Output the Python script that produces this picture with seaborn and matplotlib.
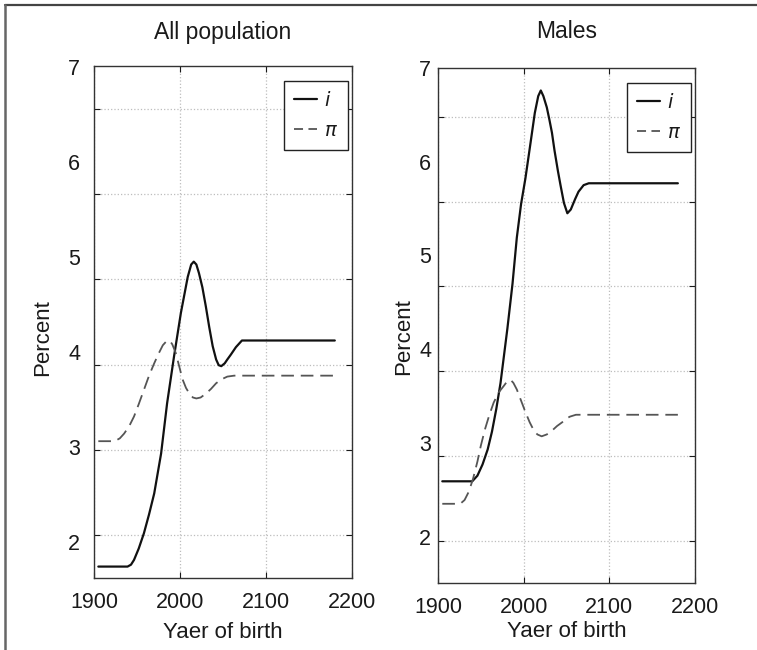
import matplotlib
matplotlib.use("Agg")
import matplotlib.pyplot as plt
from matplotlib.lines import Line2D
from matplotlib.ticker import FixedLocator
import numpy as np
import pandas as pd
import seaborn as sns

# ---------------- data ----------------
panel_titles = ["All population", "Males"]

all_i_year = [1905, 1939, 1943, 1946.5, 1952, 1958, 1964, 1970, 1978, 1985, 1993,
              2001, 2009, 2013, 2016, 2019, 2022, 2026, 2030, 2034, 2038, 2042,
              2045, 2048, 2052, 2055, 2059, 2065, 2072, 2076, 2180]
all_i_val = [1.74, 1.74, 1.76, 1.81, 1.93, 2.09, 2.29, 2.51, 2.93, 3.46, 3.95,
             4.41, 4.79, 4.92, 4.95, 4.92, 4.83, 4.68, 4.48, 4.26, 4.06, 3.92,
             3.86, 3.85, 3.88, 3.92, 3.97, 4.05, 4.12, 4.12, 4.12]

all_pi_year = [1905, 1924, 1930, 1935, 1941, 1946.5, 1952, 1958, 1964, 1970, 1975,
               1980, 1984, 1988, 1991, 1995, 1999, 2003, 2007, 2011, 2015, 2019,
               2024, 2030, 2036, 2042, 2048, 2055, 2063, 2071, 2180]
all_pi_val = [3.06, 3.06, 3.09, 3.14, 3.22, 3.32, 3.45, 3.60, 3.75, 3.88, 3.98,
              4.07, 4.11, 4.12, 4.08, 3.99, 3.85, 3.71, 3.62, 3.56, 3.52, 3.51,
              3.52, 3.56, 3.61, 3.67, 3.71, 3.74, 3.75, 3.75, 3.75]

male_i_year = [1905, 1940, 1946, 1952, 1958, 1963, 1968, 1973, 1977, 1981, 1987,
               1992, 1997, 2002, 2008, 2013, 2017, 2020, 2023, 2027, 2030, 2033,
               2036, 2040, 2043, 2047, 2051, 2055, 2060, 2064, 2070, 2076, 2180]
male_i_val = [2.59, 2.59, 2.65, 2.77, 2.93, 3.12, 3.36, 3.64, 3.93, 4.22, 4.70,
              5.19, 5.55, 5.82, 6.20, 6.52, 6.70, 6.76, 6.70, 6.58, 6.45, 6.31,
              6.12, 5.90, 5.75, 5.56, 5.45, 5.49, 5.60, 5.68, 5.75, 5.77, 5.77]

male_pi_year = [1905, 1926, 1931, 1936, 1941, 1946, 1950, 1955, 1960, 1965, 1971,
                1977, 1981, 1985, 1988, 1992, 1997, 2002, 2007, 2012, 2016, 2021,
                2027, 2033, 2039, 2045, 2050, 2054, 2061, 2068, 2180]
male_pi_val = [2.35, 2.35, 2.39, 2.48, 2.62, 2.80, 2.97, 3.15, 3.30, 3.43, 3.54,
               3.61, 3.66, 3.67, 3.64, 3.57, 3.45, 3.33, 3.22, 3.13, 3.09, 3.07,
               3.09, 3.13, 3.18, 3.22, 3.26, 3.28, 3.30, 3.30, 3.30]

x_ticks = [1900, 2000, 2100, 2200]
y_ticks = [2, 3, 4, 5, 6, 7]
series_labels = ["$i$", r"$\pi$"]
x_label = "Yaer of birth"
y_label = "Percent"

# ---------------- style ----------------
sns.set_style("white")
plt.rcParams["font.family"] = ["Liberation Sans", "DejaVu Sans"]
plt.rcParams["mathtext.fontset"] = "dejavusans"
TXT = "#1a1a1a"

fig = plt.figure(figsize=(7.57, 6.5), dpi=100)

axes_specs = [
    dict(rect=[0.1242, 0.1108, 0.3408, 0.7877], ylim=(1.62, 7.01),
         ypad=10, ylab_xy=(-0.20, 0.47), xlab_y=-0.107, title_y=1.066),
    dict(rect=[0.5786, 0.1031, 0.3395, 0.7923], ylim=(1.505, 6.93),
         ypad=5, ylab_xy=(-0.135, 0.478), xlab_y=-0.095, title_y=1.07),
]

datasets = [
    (all_i_year, all_i_val, all_pi_year, all_pi_val),
    (male_i_year, male_i_val, male_pi_year, male_pi_val),
]

for spec, (iy, iv, py, pv), title in zip(axes_specs, datasets, panel_titles):
    ax = fig.add_axes(spec["rect"])
    df_i = pd.DataFrame({"year": iy, "val": iv})
    df_p = pd.DataFrame({"year": py, "val": pv})
    sns.lineplot(data=df_i, x="year", y="val", ax=ax, color="#111111",
                 linewidth=1.6, label=series_labels[0])
    sns.lineplot(data=df_p, x="year", y="val", ax=ax, color="#555555",
                 linewidth=1.3, linestyle=(0, (7, 3.8)), label=series_labels[1])

    lo, hi = spec["ylim"]
    ax.set_xlim(1900, 2200)
    ax.set_ylim(lo, hi)
    ax.set_xticks(x_ticks)
    ax.set_yticks(y_ticks)
    # grid lines at the evenly spaced positions seen in the scan
    grid_pos = [lo + (k + 0.5) / 6 * (hi - lo) for k in range(6)]
    ax.yaxis.set_minor_locator(FixedLocator(grid_pos))

    ax.tick_params(axis="x", which="major", direction="in", length=4, width=0.8,
                   top=True, bottom=True, labelsize=15.5, pad=10, colors=TXT)
    ax.tick_params(axis="y", which="major", length=0, labelsize=15.5,
                   pad=spec["ypad"], colors=TXT)
    ax.tick_params(axis="y", which="minor", direction="in", length=4, width=0.8,
                   left=True, right=True, colors=TXT)
    ax.grid(True, which="major", axis="x", color="#bdbdbd", linestyle=":",
            linewidth=0.9)
    ax.grid(True, which="minor", axis="y", color="#bdbdbd", linestyle=":",
            linewidth=0.9)
    for s in ax.spines.values():
        s.set_color("#333333")
        s.set_linewidth(1.0)

    ax.set_xlabel(x_label, fontsize=16, color=TXT)
    ax.set_ylabel(y_label, fontsize=16, color=TXT)
    ax.xaxis.set_label_coords(0.5, spec["xlab_y"])
    ax.xaxis.label.set_verticalalignment("center")
    ax.yaxis.set_label_coords(*spec["ylab_xy"])
    ax.yaxis.label.set_verticalalignment("center")
    ax.set_title(title, fontsize=16.5, color=TXT, y=spec["title_y"], pad=0,
                 verticalalignment="center")

    leg = ax.legend(loc="upper right", bbox_to_anchor=(0.984, 0.971),
                    borderaxespad=0, fontsize=14, handlelength=1.2,
                    handletextpad=0.35, labelspacing=0.65, borderpad=0.5,
                    fancybox=False, framealpha=1, edgecolor="#222222")
    leg.get_frame().set_linewidth(1.0)
    leg.get_lines()[1].set_dashes((5, 3))
    for t in leg.get_texts():
        t.set_color(TXT)

# outer frame lines (top and left edges of the figure box)
fig.add_artist(Line2D([5 / 757, 1.0], [1 - 5 / 650, 1 - 5 / 650],
                      transform=fig.transFigure, color="#444444", linewidth=1.6))
fig.add_artist(Line2D([5 / 757, 5 / 757], [0.0, 1 - 5 / 650],
                      transform=fig.transFigure, color="#666666", linewidth=1.8))

fig.savefig("out.png", dpi=100)
